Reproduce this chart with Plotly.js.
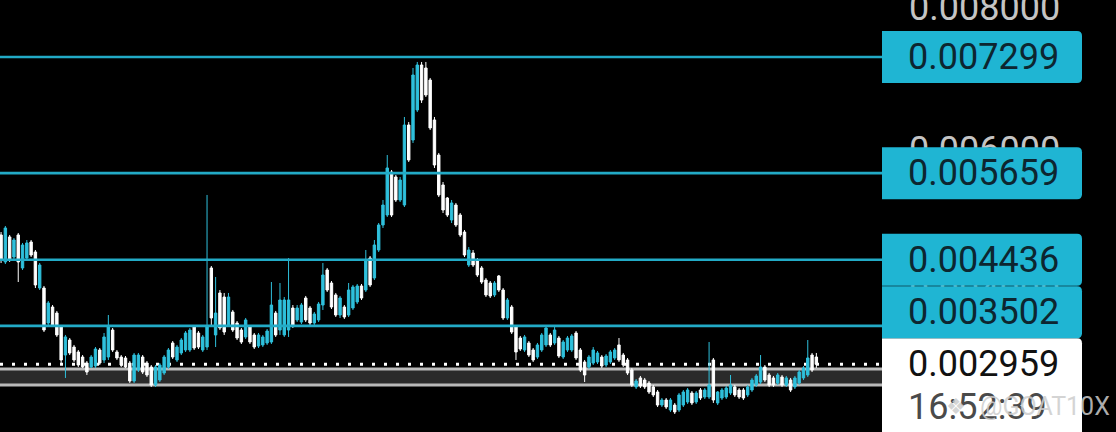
<!DOCTYPE html>
<html><head><meta charset="utf-8">
<script src="https://cdn.plot.ly/plotly-3.0.1.min.js"></script>
<style>html,body{margin:0;padding:0;background:#000;overflow:hidden}#chart{width:1116px;height:432px}</style>
</head><body><div id="chart"></div>
<script>
const open = [
0.004786,0.004405,0.004758,0.004475,0.004786,0.004320,0.004461,0.004687,0.004546,0.004037,
0.004037,0.003543,0.003769,0.003684,0.003487,0.003091,0.003303,0.003204,0.003134,0.003063,
0.002978,0.002922,0.002936,0.003162,0.003021,0.003063,0.003444,0.003134,0.003063,0.003049,
0.002978,0.002724,0.002880,0.003063,0.002978,0.002922,0.002668,0.002738,0.002837,0.002922,
0.003261,0.003021,0.003120,0.003162,0.003162,0.003487,0.003402,0.003162,0.003204,0.004320,
0.003374,0.003967,0.003910,0.003515,0.003699,0.003543,0.003444,0.003346,0.003487,0.003374,
0.003218,0.003233,0.003261,0.003275,0.003684,0.003444,0.003374,0.003444,0.003755,0.003586,
0.003557,0.003896,0.003755,0.003543,0.003586,0.003797,0.004292,0.004108,0.003939,0.003656,
0.003769,0.003656,0.003755,0.003840,0.004066,0.004009,0.004461,0.004179,0.004574,0.004927,
0.005068,0.005675,0.005605,0.005280,0.005209,0.006339,0.006127,0.006551,0.007186,0.007144,
0.006974,0.006410,0.005915,0.005492,0.005308,0.004998,0.005209,0.005068,0.004828,0.004362,
0.004532,0.004433,0.004320,0.004150,0.004108,0.003939,0.004207,0.004009,0.003614,0.003769,
0.003487,0.003331,0.003162,0.003261,0.003162,0.003063,0.003162,0.003233,0.003374,0.003261,
0.003331,0.003063,0.003162,0.003162,0.003402,0.003162,0.002993,0.002922,0.002978,0.002993,
0.003063,0.002950,0.002993,0.003049,0.003233,0.003091,0.003021,0.002880,0.002640,0.002767,
0.002738,0.002696,0.002640,0.002569,0.002385,0.002456,0.002315,0.002385,0.002315,0.002385,
0.002428,0.002555,0.002428,0.002597,0.002498,0.002498,0.003021,0.002414,0.002484,0.002498,
0.002555,0.002640,0.002597,0.002597,0.002527,0.002597,0.002668,0.002710,0.002922,0.002809,
0.002767,0.002696,0.002781,0.002668,0.002738,0.002640,0.002696,0.002767,0.002809,0.003091,
0.003063];
const high = [
0.004828,0.004913,0.004786,0.004743,0.004814,0.004673,0.004715,0.004715,0.004574,0.004390,
0.004066,0.003854,0.003797,0.003713,0.003515,0.003374,0.003331,0.003233,0.003162,0.003091,
0.003007,0.003091,0.003204,0.003190,0.003402,0.003656,0.003473,0.003162,0.003091,0.003077,
0.003007,0.003120,0.003120,0.003091,0.003007,0.002950,0.002950,0.002978,0.003091,0.003190,
0.003289,0.003233,0.003331,0.003430,0.003473,0.003515,0.003430,0.003374,0.005351,0.004348,
0.004193,0.004009,0.003967,0.003967,0.003727,0.003571,0.003473,0.003614,0.003515,0.003402,
0.003402,0.003374,0.003458,0.004122,0.003713,0.004108,0.003910,0.004461,0.003797,0.003797,
0.003826,0.003925,0.003783,0.003699,0.003840,0.004390,0.004320,0.004136,0.003967,0.003925,
0.003797,0.004108,0.004080,0.004094,0.004094,0.004574,0.004489,0.004715,0.004955,0.005280,
0.005915,0.005704,0.005633,0.005605,0.006452,0.006381,0.007144,0.007229,0.007229,0.007229,
0.007003,0.006452,0.005944,0.005534,0.005322,0.005280,0.005238,0.005096,0.004856,0.004616,
0.004574,0.004461,0.004348,0.004179,0.004136,0.004136,0.004221,0.004037,0.003896,0.003797,
0.003515,0.003360,0.003374,0.003289,0.003190,0.003261,0.003402,0.003515,0.003402,0.003501,
0.003360,0.003303,0.003360,0.003388,0.003430,0.003190,0.003021,0.003091,0.003204,0.003148,
0.003091,0.003105,0.003162,0.003190,0.003331,0.003120,0.003049,0.002908,0.002752,0.002795,
0.002767,0.002724,0.002668,0.002597,0.002484,0.002484,0.002484,0.002414,0.002555,0.002597,
0.002625,0.002583,0.002583,0.002625,0.002625,0.003275,0.003049,0.002583,0.002625,0.002654,
0.002809,0.002668,0.002625,0.002625,0.002668,0.002767,0.002823,0.003091,0.002950,0.002837,
0.002795,0.002837,0.002809,0.002795,0.002767,0.002795,0.002880,0.002936,0.003303,0.003120,
0.003120];
const low = [
0.004390,0.004376,0.004405,0.004447,0.004122,0.004292,0.004433,0.004475,0.004037,0.004009,
0.003416,0.003515,0.003487,0.003346,0.002978,0.002767,0.003091,0.002993,0.002922,0.002908,
0.002809,0.002908,0.002908,0.002950,0.002978,0.003021,0.003134,0.003021,0.002922,0.002908,
0.002696,0.002696,0.002851,0.002823,0.002781,0.002640,0.002640,0.002710,0.002809,0.002894,
0.003035,0.002993,0.003091,0.003134,0.003134,0.003162,0.003176,0.003134,0.003162,0.003487,
0.003204,0.003444,0.003374,0.003487,0.003416,0.003303,0.003247,0.003317,0.003247,0.003176,
0.003190,0.003204,0.003233,0.003247,0.003346,0.003374,0.003346,0.003346,0.003473,0.003557,
0.003529,0.003557,0.003515,0.003515,0.003557,0.003727,0.003981,0.003741,0.003628,0.003614,
0.003600,0.003628,0.003727,0.003811,0.003868,0.003981,0.004052,0.004150,0.004546,0.004885,
0.005040,0.005040,0.005252,0.005252,0.005181,0.005817,0.006085,0.006522,0.006650,0.006734,
0.006268,0.005732,0.005322,0.005096,0.005040,0.004955,0.004899,0.004758,0.004475,0.004334,
0.004334,0.004193,0.004094,0.003910,0.003896,0.003910,0.003981,0.003586,0.003586,0.003388,
0.003021,0.003148,0.003134,0.003063,0.002993,0.003035,0.003134,0.003204,0.003204,0.003233,
0.003049,0.003035,0.003134,0.003134,0.003021,0.002851,0.002710,0.002894,0.002950,0.002964,
0.002908,0.002922,0.002964,0.003021,0.002993,0.002922,0.002809,0.002640,0.002611,0.002625,
0.002611,0.002541,0.002498,0.002357,0.002357,0.002329,0.002287,0.002258,0.002287,0.002357,
0.002400,0.002385,0.002400,0.002456,0.002470,0.002470,0.002414,0.002385,0.002456,0.002470,
0.002527,0.002498,0.002470,0.002456,0.002498,0.002569,0.002640,0.002682,0.002710,0.002640,
0.002640,0.002668,0.002640,0.002640,0.002569,0.002611,0.002668,0.002738,0.002781,0.002851,
0.002908];
const close = [
0.004433,0.004885,0.004433,0.004715,0.004405,0.004645,0.004673,0.004503,0.004080,0.004362,
0.003444,0.003826,0.003515,0.003374,0.003021,0.003346,0.003120,0.003021,0.002950,0.002922,
0.002851,0.003063,0.003176,0.002978,0.003346,0.003487,0.003162,0.003049,0.002950,0.002922,
0.002724,0.003091,0.003091,0.002851,0.002809,0.002668,0.002922,0.002950,0.003063,0.003162,
0.003063,0.003204,0.003303,0.003402,0.003444,0.003190,0.003204,0.003346,0.003487,0.003614,
0.003684,0.003473,0.003416,0.003910,0.003444,0.003331,0.003275,0.003586,0.003275,0.003204,
0.003374,0.003346,0.003430,0.003797,0.003374,0.003868,0.003868,0.003868,0.003501,0.003755,
0.003797,0.003586,0.003543,0.003670,0.003811,0.004221,0.004009,0.003769,0.003656,0.003896,
0.003628,0.004009,0.004052,0.004066,0.003896,0.004433,0.004080,0.004645,0.004927,0.005209,
0.005732,0.005068,0.005280,0.005562,0.006339,0.005845,0.007045,0.007186,0.006692,0.006763,
0.006297,0.005774,0.005351,0.005139,0.005068,0.005238,0.004927,0.004786,0.004503,0.004574,
0.004362,0.004221,0.004122,0.003939,0.003925,0.004108,0.004009,0.003614,0.003868,0.003416,
0.003134,0.003176,0.003346,0.003091,0.003021,0.003233,0.003374,0.003473,0.003233,0.003444,
0.003077,0.003275,0.003331,0.003360,0.003049,0.002880,0.002809,0.003063,0.003162,0.003120,
0.002936,0.003077,0.003134,0.003162,0.003021,0.002950,0.002837,0.002668,0.002724,0.002654,
0.002640,0.002569,0.002527,0.002385,0.002456,0.002357,0.002456,0.002287,0.002527,0.002569,
0.002597,0.002414,0.002555,0.002484,0.002597,0.002668,0.002456,0.002569,0.002597,0.002625,
0.002668,0.002527,0.002498,0.002484,0.002640,0.002738,0.002795,0.002922,0.002738,0.002668,
0.002668,0.002809,0.002668,0.002767,0.002597,0.002767,0.002851,0.002908,0.003049,0.002880,
0.002959];

const levels = [0.007299, 0.005659, 0.004436, 0.003502];
const levelLabels = ["0.007299", "0.005659", "0.004436", "0.003502"];
const lastPrice = 0.002959;
const lastPriceLabel = "0.002959";
const countdown = "16:52:39";
const watermark = "@GOAT10X";
const bandLow = 0.002668, bandHigh = 0.002894;
const tickVals = [0.004, 0.006, 0.008];
const tickText = ["0.004000", "0.006000", "0.008000"];
const yRange = [0.002004, 0.008104];

const CYAN = '#1fb5d3', LINE = '#22aac6', CANDLE_UP = '#2fc0dc';
const H = 432, BOX_W = 200, BOX_HALF = 26, R = 5;
const x = open.map((_, i) => i);

const trace = {
  type: 'candlestick', x: x, open: open, high: high, low: low, close: close,
  increasing: {line: {color: CANDLE_UP, width: 1}, fillcolor: CANDLE_UP},
  decreasing: {line: {color: '#ffffff', width: 1}, fillcolor: '#ffffff'},
  whiskerwidth: 0, hoverinfo: 'skip'
};

function boxPath(y0, y1, w, r) {
  return `M 0 ${y0} L ${w - r} ${y0} Q ${w} ${y0} ${w} ${y0 + r} L ${w} ${y1 - r} Q ${w} ${y1} ${w - r} ${y1} L 0 ${y1} Z`;
}
const pxPer = H / (yRange[1] - yRange[0]);
const h = v => (v - yRange[0]) * pxPer;

const shapes = [];
const annotations = [];
shapes.push({type: 'rect', xref: 'paper', x0: 0, x1: 1, yref: 'y', y0: bandLow, y1: bandHigh,
  fillcolor: '#2a2a2a', line: {width: 0}, layer: 'below'});
[bandLow, bandHigh].forEach(v => shapes.push({type: 'line', xref: 'paper', x0: 0, x1: 1, yref: 'y', y0: v, y1: v,
  line: {color: '#b9b9b9', width: 3}, layer: 'below'}));
shapes.push({type: 'line', xref: 'paper', x0: 0, x1: 1, yref: 'y', y0: lastPrice, y1: lastPrice,
  line: {color: '#ffffff', width: 3, dash: '3px,9px'}, layer: 'below'});
levels.forEach(v => shapes.push({type: 'line', xref: 'paper', x0: 0, x1: 1, yref: 'y', y0: v, y1: v,
  line: {color: LINE, width: 2.6}, layer: 'above'}));

shapes.push({type: 'path', xref: 'paper', xsizemode: 'pixel', xanchor: 1, yref: 'y', ysizemode: 'pixel', yanchor: lastPrice,
  path: boxPath(-h(lastPrice) - 10, BOX_HALF, BOX_W, R), fillcolor: '#ffffff', line: {width: 0}, layer: 'above'});
annotations.push({xref: 'paper', x: 1, xanchor: 'left', xshift: 24, yref: 'y', y: lastPrice, yanchor: 'middle',
  text: lastPriceLabel, showarrow: false, font: {family: 'Roboto', size: 36, color: '#111111'}});
annotations.push({xref: 'paper', x: 1, xanchor: 'left', xshift: 24, yref: 'paper', y: 0.058, yanchor: 'middle',
  text: countdown, showarrow: false, font: {family: 'Roboto', size: 36, color: '#4a4a4a'}});
annotations.push({xref: 'paper', x: 1, xanchor: 'left', xshift: 62, yref: 'paper', y: 0.058, yanchor: 'middle',
  text: '❖', showarrow: false, font: {family: 'DejaVu Sans', size: 22, color: 'rgba(205,205,205,0.85)'}});
annotations.push({xref: 'paper', x: 1, xanchor: 'left', xshift: 96, yref: 'paper', y: 0.058, yanchor: 'middle',
  text: watermark, showarrow: false, font: {family: 'Roboto', size: 25, color: 'rgba(205,205,205,0.85)'}});

let floor = h(lastPrice) + BOX_HALF;
const order = levels.map((v, i) => i).sort((a, b) => levels[a] - levels[b]);
order.forEach(i => {
  const v = levels[i];
  const bottom = h(v) - BOX_HALF;
  const shift = Math.max(0, floor - bottom);
  floor = h(v) + shift + BOX_HALF;
  shapes.push({type: 'path', xref: 'paper', xsizemode: 'pixel', xanchor: 1, yref: 'y', ysizemode: 'pixel', yanchor: v,
    path: boxPath(shift - BOX_HALF, shift + BOX_HALF, BOX_W, R), fillcolor: CYAN, line: {width: 0}, layer: 'above'});
  annotations.push({xref: 'paper', x: 1, xanchor: 'left', xshift: 24, yref: 'y', y: v, yshift: shift, yanchor: 'middle',
    text: levelLabels[i], showarrow: false, font: {family: 'Roboto', size: 36, color: '#0d2630'}});
});

const layout = {
  width: 1116, height: 432,
  margin: {l: 0, r: 234, t: 0, b: 0, pad: 0},
  paper_bgcolor: '#000000', plot_bgcolor: '#000000',
  showlegend: false, boxgap: 0.2,
  xaxis: {range: [-0.25, 205.3], visible: false, rangeslider: {visible: false}, fixedrange: true},
  yaxis: {range: yRange, side: 'right', showgrid: false, zeroline: false, showline: false, ticks: '',
    tickvals: tickVals, ticktext: tickText, ticklabelstandoff: 26, ticklabeloverflow: 'allow',
    tickfont: {family: 'Roboto', size: 36, color: '#c4c4c4'}, fixedrange: true},
  shapes: shapes, annotations: annotations
};
Plotly.newPlot('chart', [trace], layout, {staticPlot: true, displayModeBar: false});
</script>
</body></html>
